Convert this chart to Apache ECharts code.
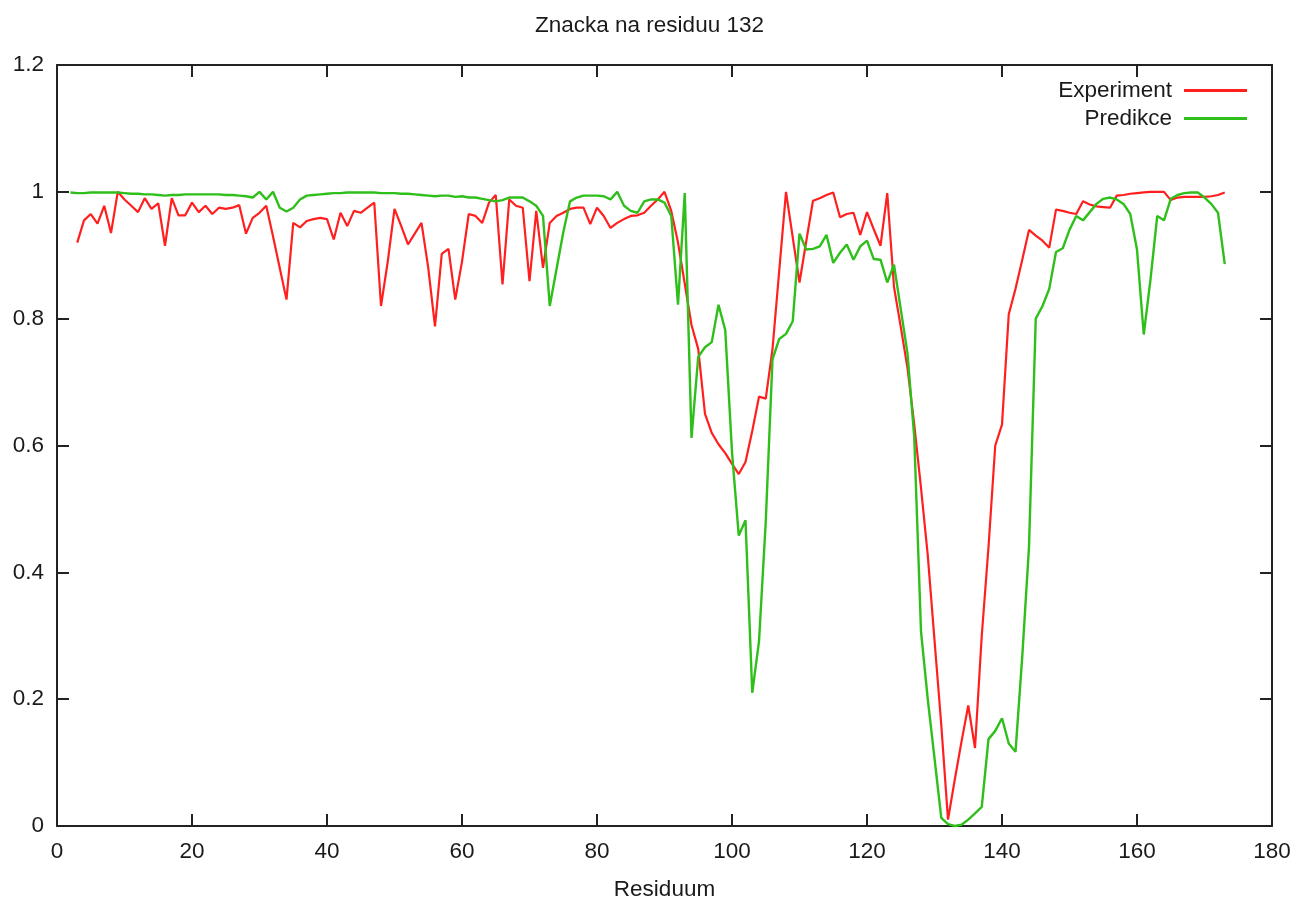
<!DOCTYPE html>
<html>
<head>
<meta charset="utf-8">
<title>Znacka na residuu 132</title>
<script src="https://cdn.jsdelivr.net/npm/echarts@6/dist/echarts.min.js"></script>
<style>
  html, body { margin: 0; padding: 0; background: #ffffff; }
  #chart { width: 1299px; height: 901px; }
</style>
</head>
<body>
<div id="chart"></div>
<script>
// Residue number of the first value in each profile
const experimentStart = 3;
const predictionStart = 2;

// Measured profile, residues 3..173
const experiment = [
  0.92, 0.955, 0.965, 0.95, 0.978, 0.935, 1.0, 0.988, 0.978, 0.968,
  0.99, 0.973, 0.982, 0.915, 0.99, 0.963, 0.963, 0.983, 0.968, 0.978,
  0.965, 0.975, 0.973, 0.975, 0.979, 0.934, 0.959, 0.967, 0.978, 0.93,
  0.88, 0.83, 0.951, 0.944, 0.954, 0.957, 0.959, 0.957, 0.925, 0.967,
  0.946, 0.97, 0.967, 0.975, 0.983, 0.82, 0.89, 0.973, 0.946, 0.917,
  0.934, 0.951, 0.88, 0.788, 0.902, 0.91, 0.83, 0.89, 0.965, 0.962,
  0.951, 0.983, 0.995, 0.854, 0.988, 0.978, 0.975, 0.859, 0.97, 0.88,
  0.951, 0.962, 0.967, 0.973, 0.975, 0.975, 0.949, 0.975, 0.962, 0.943,
  0.951, 0.957, 0.962, 0.963, 0.967, 0.978, 0.988, 1.0, 0.97, 0.92,
  0.855, 0.79, 0.752, 0.65, 0.62, 0.602, 0.588, 0.571, 0.555, 0.574,
  0.623, 0.677, 0.674, 0.752, 0.876, 1.0, 0.928, 0.857, 0.922, 0.986,
  0.99, 0.995, 0.999, 0.96, 0.965, 0.967, 0.932, 0.968, 0.941, 0.915,
  0.998, 0.85, 0.787, 0.722, 0.633, 0.533, 0.427, 0.293, 0.16, 0.01,
  0.073, 0.133, 0.19, 0.123, 0.30, 0.44, 0.60, 0.633, 0.807, 0.847,
  0.893, 0.94, 0.931, 0.923, 0.912, 0.972, 0.97, 0.967, 0.965, 0.985,
  0.98, 0.977, 0.976, 0.975, 0.994, 0.995, 0.997, 0.998, 0.999, 1.0,
  1.0, 1.0, 0.987, 0.991, 0.992, 0.992, 0.992, 0.992, 0.993, 0.995,
  0.999
];

// Predicted profile, residues 2..173
const prediction = [
  0.999, 0.998, 0.998, 0.999, 0.999, 0.999, 0.999, 0.999, 0.998, 0.997,
  0.997, 0.996, 0.996, 0.995, 0.994, 0.995, 0.995, 0.996, 0.996, 0.996,
  0.996, 0.996, 0.996, 0.995, 0.995, 0.994, 0.993, 0.991, 1.0, 0.988,
  1.0, 0.975, 0.969, 0.975, 0.988, 0.994, 0.995, 0.996, 0.997, 0.998,
  0.998, 0.999, 0.999, 0.999, 0.999, 0.999, 0.998, 0.998, 0.998, 0.997,
  0.997, 0.996, 0.995, 0.994, 0.993, 0.994, 0.994, 0.992, 0.993, 0.991,
  0.991, 0.989, 0.987, 0.985, 0.987, 0.991, 0.991, 0.991, 0.985, 0.978,
  0.962, 0.82, 0.878, 0.936, 0.985, 0.991, 0.994, 0.994, 0.994, 0.993,
  0.988, 1.0, 0.978, 0.97, 0.967, 0.985, 0.988, 0.988, 0.983, 0.962,
  0.822, 0.998, 0.612, 0.74, 0.755, 0.763, 0.822, 0.782, 0.59, 0.458,
  0.482, 0.21, 0.291, 0.48, 0.736, 0.768, 0.776, 0.796, 0.934, 0.909,
  0.91, 0.914, 0.932, 0.888, 0.904, 0.917, 0.893, 0.914, 0.923, 0.894,
  0.893, 0.857, 0.885, 0.815, 0.745, 0.613, 0.307, 0.2, 0.107, 0.013,
  0.003, 0.0, 0.002, 0.01, 0.02, 0.03, 0.137, 0.15, 0.17, 0.13,
  0.117, 0.267, 0.44, 0.80, 0.82, 0.847, 0.905, 0.911, 0.94, 0.962,
  0.955, 0.968, 0.981, 0.989, 0.991, 0.988, 0.981, 0.965, 0.909, 0.775,
  0.862, 0.962, 0.955, 0.989, 0.995, 0.998, 0.999, 0.999, 0.991, 0.981,
  0.967, 0.886
];

// Axis ranges: [min, max, step]
const xRange = [0, 180, 20];
const yRange = [0, 1.2, 0.2];

const seriesNames = ['Experiment', 'Predikce'];
const seriesColors = ['#ff1f1f', '#2fbf1a'];

function toPairs(start, values) {
  return values.map((v, i) => [start + i, v]);
}

const FONT = '"Liberation Sans", Arial, Helvetica, sans-serif';
const INK = '#1a1a1a';
// Closed frame with inward ticks on all four sides
const frameLine = { show: true, onZero: false, lineStyle: { color: '#222', width: 2 } };
const inwardTick = { show: true, inside: true, length: 12, lineStyle: { color: '#222', width: 2 } };

const chart = echarts.init(document.getElementById('chart'), null, { renderer: 'canvas' });

chart.setOption({
  animation: false,
  backgroundColor: '#ffffff',
  textStyle: { fontFamily: FONT },
  title: {
    text: 'Znacka na residuu 132',
    left: 'center',
    top: 9,
    textStyle: { fontFamily: FONT, fontSize: 22.5, fontWeight: 'normal', color: INK }
  },
  legend: {
    orient: 'vertical',
    align: 'right',
    right: 52,
    top: 79,
    padding: 0,
    itemGap: 5,
    itemWidth: 63,
    itemHeight: 3,
    icon: 'rect',
    data: seriesNames,
    textStyle: { fontFamily: FONT, fontSize: 22.5, color: INK, lineHeight: 22, padding: [0, 7, 0, 0] }
  },
  grid: { left: 57, right: 27, top: 65, bottom: 75, containLabel: false, outerBoundsMode: 'none' },
  xAxis: [
    {
      type: 'value', position: 'bottom',
      min: xRange[0], max: xRange[1], interval: xRange[2],
      axisLine: frameLine, axisTick: inwardTick,
      splitLine: { show: false },
      axisLabel: { fontFamily: FONT, fontSize: 22.5, color: INK, margin: 14 },
      name: 'Residuum', nameLocation: 'middle', nameGap: 52,
      nameTextStyle: { fontFamily: FONT, fontSize: 22.5, color: INK }
    },
    {
      type: 'value', position: 'top',
      min: xRange[0], max: xRange[1], interval: xRange[2],
      axisLine: frameLine, axisTick: inwardTick,
      splitLine: { show: false }, axisLabel: { show: false }
    }
  ],
  yAxis: [
    {
      type: 'value', position: 'left',
      min: yRange[0], max: yRange[1], interval: yRange[2],
      axisLine: frameLine, axisTick: inwardTick,
      splitLine: { show: false },
      axisLabel: { fontFamily: FONT, fontSize: 22.5, color: INK, margin: 13 }
    },
    {
      type: 'value', position: 'right',
      min: yRange[0], max: yRange[1], interval: yRange[2],
      axisLine: frameLine, axisTick: inwardTick,
      splitLine: { show: false }, axisLabel: { show: false }
    }
  ],
  series: [
    {
      name: seriesNames[0], type: 'line',
      xAxisIndex: 0, yAxisIndex: 0,
      data: toPairs(experimentStart, experiment),
      showSymbol: false, symbol: 'none',
      lineStyle: { color: seriesColors[0], width: 2.2 },
      itemStyle: { color: seriesColors[0] },
      z: 2
    },
    {
      name: seriesNames[1], type: 'line',
      xAxisIndex: 0, yAxisIndex: 0,
      data: toPairs(predictionStart, prediction),
      showSymbol: false, symbol: 'none',
      lineStyle: { color: seriesColors[1], width: 2.4 },
      itemStyle: { color: seriesColors[1] },
      z: 3
    }
  ]
});
</script>
</body>
</html>
